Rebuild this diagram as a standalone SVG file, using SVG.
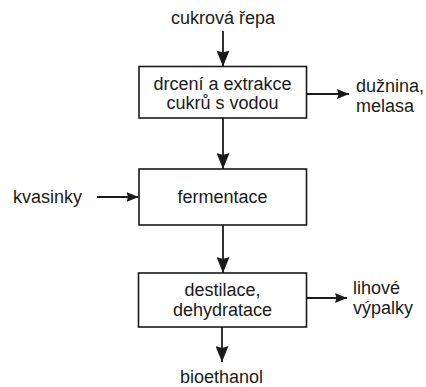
<svg xmlns="http://www.w3.org/2000/svg" width="426" height="387" viewBox="0 0 426 387">
  <style>
    text { font-family: "Liberation Sans", Arial, sans-serif; font-size: 18px; fill: #1a1a1a; }
    .c { text-anchor: middle; }
    .box { fill: #ffffff; stroke: #1a1a1a; stroke-width: 1.6; }
    .conn { stroke: #1a1a1a; stroke-width: 1.8; fill: none; }
    .v { marker-end: url(#bigArrow); }
    .h { marker-end: url(#smallArrow); }
  </style>
  <defs>
    <marker id="bigArrow" markerUnits="userSpaceOnUse" markerWidth="16" markerHeight="13" refX="16" refY="6.5" orient="auto">
      <path d="M0,0 L16,6.5 L0,13 L2,6.5 z" fill="#1a1a1a"/>
    </marker>
    <marker id="smallArrow" markerUnits="userSpaceOnUse" markerWidth="12" markerHeight="10" refX="12" refY="5" orient="auto">
      <path d="M0,0 L12,5 L0,10 L1.5,5 z" fill="#1a1a1a"/>
    </marker>
  </defs>
  <rect width="426" height="387" fill="#ffffff"/>

  <g id="connectors">
    <line class="conn v" x1="223" y1="31" x2="223" y2="66.5"/>
    <line class="conn v" x1="223" y1="118" x2="223" y2="169"/>
    <line class="conn v" x1="223" y1="225" x2="223" y2="273"/>
    <line class="conn v" x1="222" y1="327" x2="222" y2="362"/>
    <line class="conn h" x1="306.5" y1="94" x2="349" y2="94"/>
    <line class="conn h" x1="97" y1="197" x2="138.5" y2="197"/>
    <line class="conn h" x1="306.5" y1="298" x2="347" y2="298"/>
  </g>

  <g id="input-cukrova-repa">
    <text class="c" x="223" y="23.5">cukrová řepa</text>
  </g>

  <g id="node-drceni">
    <rect class="box" x="139" y="66.5" width="167.5" height="51.5"/>
    <text class="c" x="222.5" y="89.5">drcení a extrakce</text>
    <text class="c" x="222.5" y="108.5">cukrů s vodou</text>
  </g>

  <g id="output-duznina">
    <text x="356" y="92">dužnina,</text>
    <text x="356" y="111.5">melasa</text>
  </g>

  <g id="input-kvasinky">
    <text x="13" y="203">kvasinky</text>
  </g>

  <g id="node-fermentace">
    <rect class="box" x="139" y="169" width="167.5" height="56"/>
    <text class="c" x="222.5" y="202.5">fermentace</text>
  </g>

  <g id="node-destilace">
    <rect class="box" x="138.5" y="273" width="168" height="54"/>
    <text class="c" x="222.5" y="296">destilace,</text>
    <text class="c" x="222.5" y="316">dehydratace</text>
  </g>

  <g id="output-lihove-vypalky">
    <text x="353" y="294">lihové</text>
    <text x="353" y="313.5">výpalky</text>
  </g>

  <g id="output-bioethanol">
    <text class="c" x="221.5" y="383">bioethanol</text>
  </g>
</svg>
